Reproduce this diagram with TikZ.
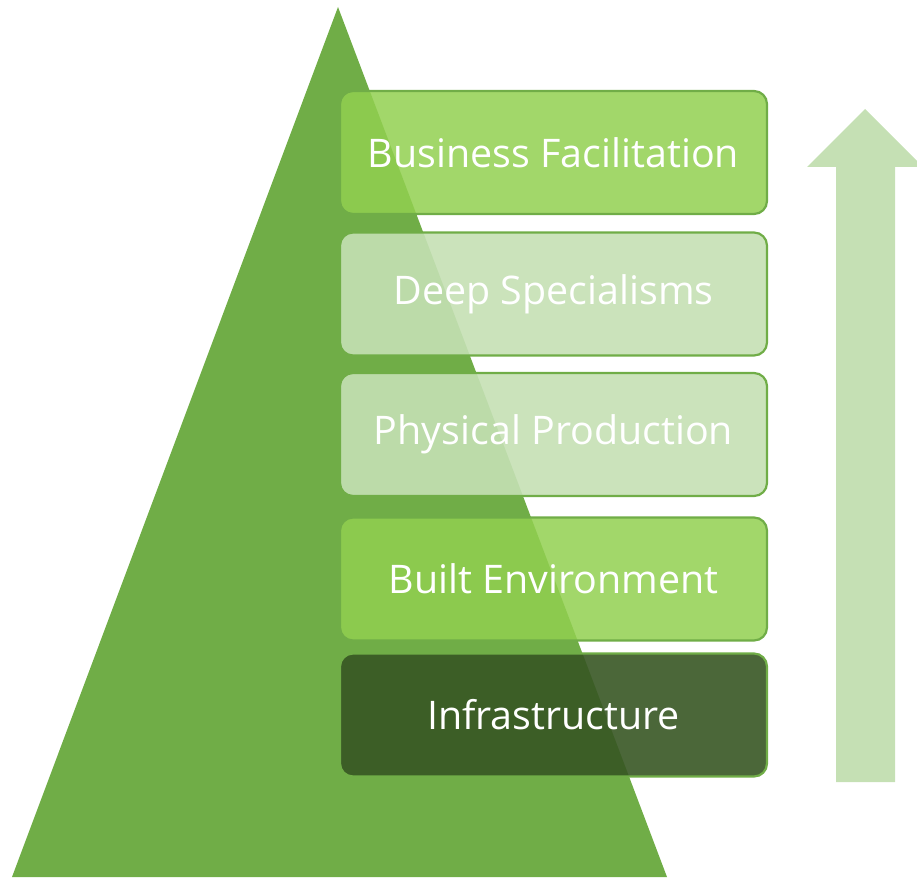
\documentclass[tikz,border=0pt]{standalone}
\usepackage{fontspec}
\setmainfont{Open Sans}
\definecolor{tri}{HTML}{70AD47}
\definecolor{midg}{HTML}{92D050}
\definecolor{lightg}{HTML}{C5E0B4}
\definecolor{darkg}{HTML}{375623}
\begin{document}
\begin{tikzpicture}[x=1pt,y=-1pt,
  layer/.style={draw=tri, line width=2.2pt, rounded corners=13pt, minimum width=427pt, minimum height=123pt, inner sep=0pt, text=white, font=\fontsize{39.4}{46}\selectfont, anchor=center},
  midbox/.style={layer, fill=midg, fill opacity=0.85, text opacity=1},
  lightbox/.style={layer, fill=lightg, fill opacity=0.9, text opacity=1},
  darkbox/.style={layer, fill=darkg, fill opacity=0.9, text opacity=1}]
\useasboundingbox (0,0) rectangle (917,877);
\begin{scope}
\clip (0,0) rectangle (917,877);
\fill[tri] (338,7) -- (667,877) -- (12,877) -- cycle;
\fill[lightg] (836,782) -- (836,167) -- (807,167) -- (865,109) -- (923,167) -- (895,167) -- (895,782) -- cycle;
\end{scope}
\node[midbox] (bf) at (553.5,152.5) {Business Facilitation};
\node[lightbox] (ds) at (553.5,294) {Deep Specialisms};
\node[lightbox] (pp) at (553.5,434.5) {Physical Production};
\node[midbox] (be) at (553.5,579) {Built Environment};
\node[darkbox] (in) at (553.5,715) {Infrastructure};
\end{tikzpicture}
\end{document}
